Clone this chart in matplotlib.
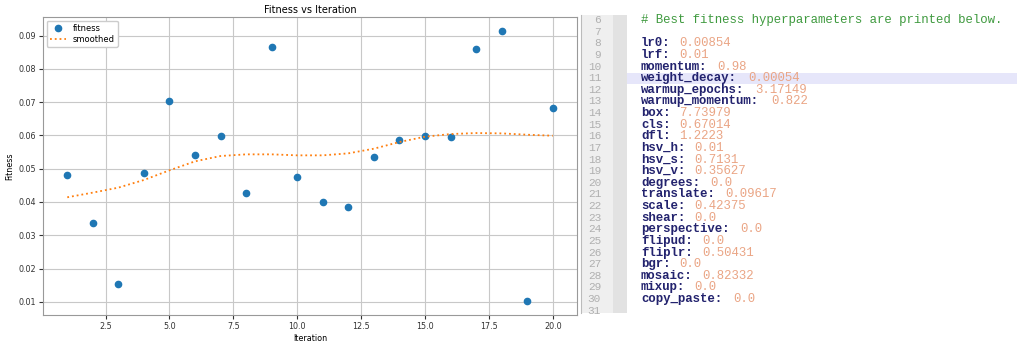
import matplotlib.pyplot as plt
from matplotlib.patches import Rectangle

# fitness per iteration
iterations = list(range(1, 21))
fitness = [0.0480, 0.0336, 0.0153, 0.0487, 0.0704, 0.0540, 0.0597, 0.0427, 0.0866, 0.0475,
           0.0400, 0.0386, 0.0536, 0.0586, 0.0598, 0.0595, 0.0860, 0.0915, 0.0101, 0.0683]
smoothed = [0.0414, 0.0428, 0.0443, 0.0466, 0.0495, 0.0522, 0.0538, 0.0543, 0.0543, 0.0540,
            0.0540, 0.0546, 0.0560, 0.0580, 0.0596, 0.0604, 0.0607, 0.0606, 0.0602, 0.0599]

# editor panel text
line_numbers = list(range(6, 32))
comment = "# Best fitness hyperparameters are printed below."
param_names = ["lr0", "lrf", "momentum", "weight_decay", "warmup_epochs", "warmup_momentum",
               "box", "cls", "dfl", "hsv_h", "hsv_s", "hsv_v", "degrees", "translate",
               "scale", "shear", "perspective", "flipud", "fliplr", "bgr", "mosaic",
               "mixup", "copy_paste"]
param_values = ["0.00854", "0.01", "0.98", "0.00054", "3.17149", "0.822",
                "7.73979", "0.67014", "1.2223", "0.01", "0.7131", "0.35627", "0.0", "0.09617",
                "0.42375", "0.0", "0.0", "0.0", "0.50431", "0.0", "0.82332",
                "0.0", "0.0"]

W, H = 1017, 347


def main():
    fig = plt.figure(figsize=(W / 100, H / 100), dpi=100)

    # left: the chart
    ax = fig.add_axes([43 / W, 1 - 315 / H, (577 - 43) / W, (315 - 17) / H])
    ax.plot(iterations, fitness, "o", color="#1f77b4", ms=4.5, label="fitness")
    ax.plot(iterations, smoothed, ":", color="#ff7f0e", lw=1.3, label="smoothed")
    ax.grid(True, color="#c8c8c8", lw=0.8)
    for s in ax.spines.values():
        s.set_color("#999999")
    ax.tick_params(labelsize=5.8, colors="#333333", length=3, pad=2)
    ax.set_title("Fitness vs Iteration", fontsize=7, pad=3)
    ax.set_xlabel("Iteration", fontsize=5.8, labelpad=2)
    ax.set_ylabel("Fitness", fontsize=5.8, labelpad=3)
    ax.legend(loc="upper left", fontsize=6, handlelength=2, borderpad=0.35,
              labelspacing=0.3, framealpha=1, borderaxespad=0.45)

    # right: editor screenshot, drawn in pixel coordinates
    ed = fig.add_axes([0, 0, 1, 1], zorder=-1)
    ed.set_xlim(0, W)
    ed.set_ylim(H, 0)
    ed.axis("off")

    top, bottom = 15, 313
    ed.add_patch(Rectangle((581, top), 32, bottom - top, color="#efefef", lw=0))
    ed.add_patch(Rectangle((613, top), 14, bottom - top, color="#e2e2e2", lw=0))
    ed.plot([581, 581], [top, bottom], color="#bbbbbb", lw=0.8)

    y0, step = 20, 11.63
    code_x = 641
    char_w = 7.65
    fs = 8.9

    # highlighted current line (line 11)
    hl = line_numbers.index(11)
    ed.add_patch(Rectangle((627, y0 + hl * step - 5.5), W - 627, 11, color="#e6e6fa", lw=0))

    for i, n in enumerate(line_numbers):
        y = y0 + i * step
        ed.text(601, y, str(n), ha="right", va="center", family="Liberation Mono",
                fontsize=8, color="#b0b0b0")

    ed.text(code_x, y0, comment, va="center", family="Liberation Mono", fontsize=fs,
            color="#3f9a3f")

    for i, (k, v) in enumerate(zip(param_names, param_values)):
        y = y0 + (i + 2) * step
        key = k + ":"
        ed.text(code_x, y, key, va="center", family="Liberation Mono", fontsize=fs,
                fontweight="bold", color="#23236e")
        ed.text(code_x + (len(key) + 1) * char_w, y, v, va="center",
                family="Liberation Mono", fontsize=fs, color="#eaa585")

    fig.savefig("out.png", dpi=100)


if __name__ == "__main__":
    main()
